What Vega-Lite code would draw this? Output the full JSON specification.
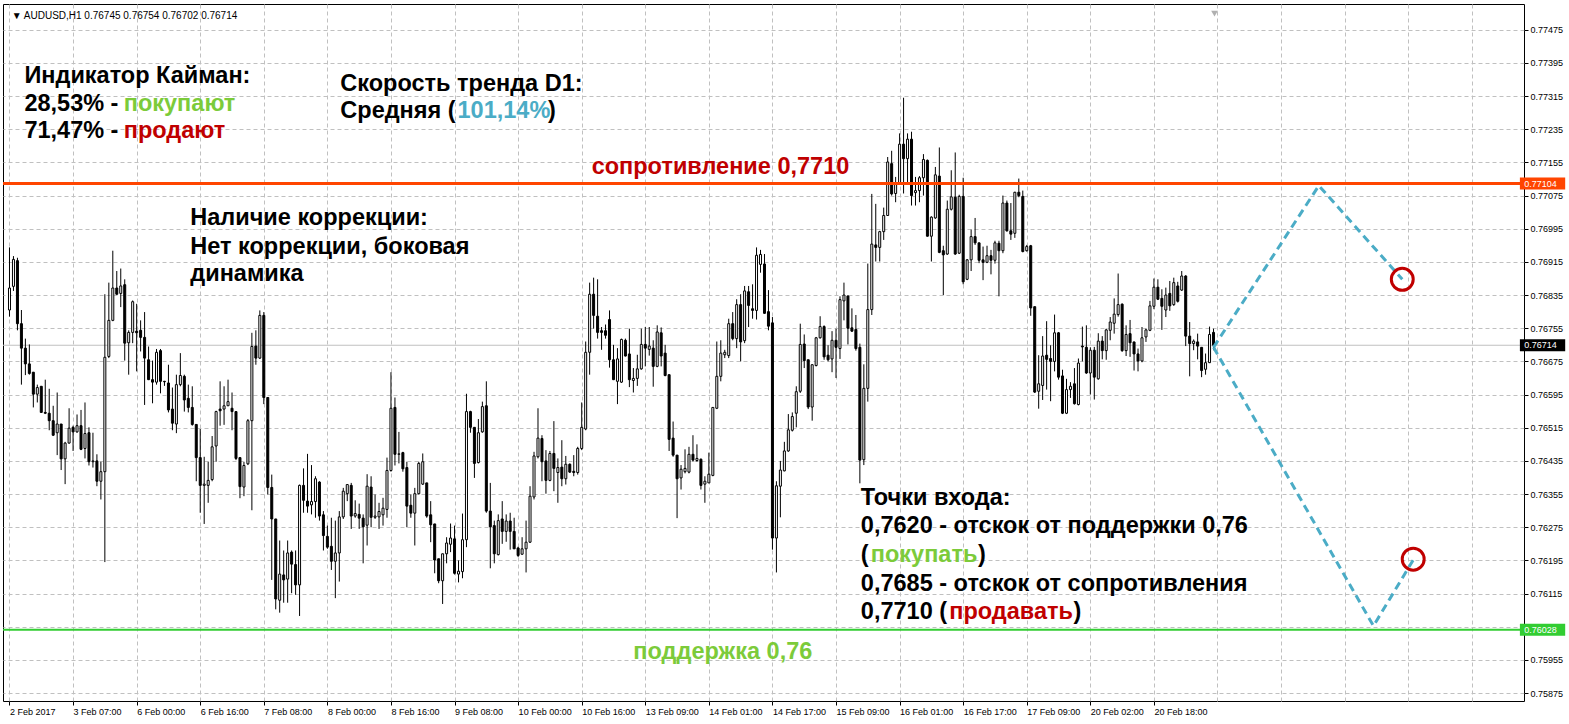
{
"$schema": "https://vega.github.io/schema/vega-lite/v6.json",
"width": 1521, "height": 697,
"autosize": {"type": "none"},
"padding": {"left": 3, "top": 4, "right": 45, "bottom": 23},
"background": "#ffffff",
"config": {"view": {"stroke": "#000000", "strokeWidth": 1}, "axis": {"labelFont": "Liberation Sans", "labelFontSize": 9, "labelColor": "#000000", "labelOverlap": false}},
"resolve": {"axis": {"y": "independent"}},
"datasets": {
"candles": [
{"i":0,"o":0.76799,"h":0.76950,"l":0.76783,"c":0.76852},
{"i":1,"o":0.76856,"h":0.76929,"l":0.76845,"c":0.76921},
{"i":2,"o":0.76918,"h":0.76925,"l":0.76750,"c":0.76766},
{"i":3,"o":0.76766,"h":0.76799,"l":0.76619,"c":0.76707},
{"i":4,"o":0.76707,"h":0.76730,"l":0.76642,"c":0.76669},
{"i":5,"o":0.76669,"h":0.76716,"l":0.76643,"c":0.76646},
{"i":6,"o":0.76649,"h":0.76649,"l":0.76564,"c":0.76596},
{"i":7,"o":0.76596,"h":0.76619,"l":0.76576,"c":0.76612},
{"i":8,"o":0.76615,"h":0.76615,"l":0.76551,"c":0.76552},
{"i":9,"o":0.76552,"h":0.76631,"l":0.76548,"c":0.76550},
{"i":10,"o":0.76550,"h":0.76609,"l":0.76509,"c":0.76532},
{"i":11,"o":0.76532,"h":0.76568,"l":0.76495,"c":0.76497},
{"i":12,"o":0.76503,"h":0.76600,"l":0.76449,"c":0.76524},
{"i":13,"o":0.76524,"h":0.76524,"l":0.76413,"c":0.76440},
{"i":14,"o":0.76440,"h":0.76481,"l":0.76379,"c":0.76478},
{"i":15,"o":0.76478,"h":0.76562,"l":0.76477,"c":0.76514},
{"i":16,"o":0.76516,"h":0.76520,"l":0.76459,"c":0.76505},
{"i":17,"o":0.76505,"h":0.76547,"l":0.76503,"c":0.76520},
{"i":18,"o":0.76520,"h":0.76558,"l":0.76461,"c":0.76463},
{"i":19,"o":0.76465,"h":0.76576,"l":0.76441,"c":0.76501},
{"i":20,"o":0.76503,"h":0.76516,"l":0.76424,"c":0.76433},
{"i":21,"o":0.76433,"h":0.76503,"l":0.76419,"c":0.76435},
{"i":22,"o":0.76435,"h":0.76451,"l":0.76374,"c":0.76386},
{"i":23,"o":0.76386,"h":0.76433,"l":0.76342,"c":0.76409},
{"i":24,"o":0.76409,"h":0.76837,"l":0.76191,"c":0.76685},
{"i":25,"o":0.76687,"h":0.76865,"l":0.76683,"c":0.76774},
{"i":26,"o":0.76774,"h":0.76942,"l":0.76772,"c":0.76852},
{"i":27,"o":0.76852,"h":0.76893,"l":0.76836,"c":0.76837},
{"i":28,"o":0.76839,"h":0.76899,"l":0.76806,"c":0.76857},
{"i":29,"o":0.76860,"h":0.76873,"l":0.76677,"c":0.76719},
{"i":30,"o":0.76720,"h":0.76750,"l":0.76643,"c":0.76745},
{"i":31,"o":0.76745,"h":0.76822,"l":0.76719,"c":0.76819},
{"i":32,"o":0.76748,"h":0.76814,"l":0.76651,"c":0.76744},
{"i":33,"o":0.76750,"h":0.76774,"l":0.76699,"c":0.76733},
{"i":34,"o":0.76733,"h":0.76794,"l":0.76570,"c":0.76683},
{"i":35,"o":0.76679,"h":0.76711,"l":0.76630,"c":0.76631},
{"i":36,"o":0.76631,"h":0.76677,"l":0.76574,"c":0.76625},
{"i":37,"o":0.76625,"h":0.76705,"l":0.76619,"c":0.76697},
{"i":38,"o":0.76701,"h":0.76705,"l":0.76598,"c":0.76627},
{"i":39,"o":0.76627,"h":0.76628,"l":0.76616,"c":0.76626},
{"i":40,"o":0.76623,"h":0.76667,"l":0.76552,"c":0.76558},
{"i":41,"o":0.76560,"h":0.76612,"l":0.76509,"c":0.76526},
{"i":42,"o":0.76524,"h":0.76643,"l":0.76502,"c":0.76619},
{"i":43,"o":0.76619,"h":0.76695,"l":0.76615,"c":0.76641},
{"i":44,"o":0.76639,"h":0.76643,"l":0.76554,"c":0.76582},
{"i":45,"o":0.76586,"h":0.76619,"l":0.76552,"c":0.76564},
{"i":46,"o":0.76564,"h":0.76615,"l":0.76520,"c":0.76523},
{"i":47,"o":0.76523,"h":0.76523,"l":0.76386,"c":0.76443},
{"i":48,"o":0.76443,"h":0.76512,"l":0.76310,"c":0.76376},
{"i":49,"o":0.76376,"h":0.76445,"l":0.76283,"c":0.76379},
{"i":50,"o":0.76376,"h":0.76433,"l":0.76334,"c":0.76388},
{"i":51,"o":0.76390,"h":0.76495,"l":0.76386,"c":0.76469},
{"i":52,"o":0.76471,"h":0.76556,"l":0.76433,"c":0.76554},
{"i":53,"o":0.76560,"h":0.76627,"l":0.76520,"c":0.76556},
{"i":54,"o":0.76560,"h":0.76615,"l":0.76522,"c":0.76568},
{"i":55,"o":0.76568,"h":0.76631,"l":0.76568,"c":0.76578},
{"i":56,"o":0.76562,"h":0.76600,"l":0.76509,"c":0.76554},
{"i":57,"o":0.76554,"h":0.76554,"l":0.76437,"c":0.76441},
{"i":58,"o":0.76443,"h":0.76443,"l":0.76345,"c":0.76373},
{"i":59,"o":0.76372,"h":0.76433,"l":0.76350,"c":0.76424},
{"i":60,"o":0.76428,"h":0.76536,"l":0.76425,"c":0.76532},
{"i":61,"o":0.76532,"h":0.76744,"l":0.76316,"c":0.76711},
{"i":62,"o":0.76712,"h":0.76750,"l":0.76667,"c":0.76683},
{"i":63,"o":0.76683,"h":0.76798,"l":0.76681,"c":0.76786},
{"i":64,"o":0.76786,"h":0.76794,"l":0.76572,"c":0.76588},
{"i":65,"o":0.76588,"h":0.76588,"l":0.76354,"c":0.76371},
{"i":66,"o":0.76371,"h":0.76402,"l":0.76148,"c":0.76295},
{"i":67,"o":0.76295,"h":0.76295,"l":0.76077,"c":0.76102},
{"i":68,"o":0.76099,"h":0.76243,"l":0.76069,"c":0.76162},
{"i":69,"o":0.76160,"h":0.76219,"l":0.76093,"c":0.76148},
{"i":70,"o":0.76150,"h":0.76243,"l":0.76093,"c":0.76213},
{"i":71,"o":0.76215,"h":0.76219,"l":0.76116,"c":0.76186},
{"i":72,"o":0.76185,"h":0.76219,"l":0.76112,"c":0.76136},
{"i":73,"o":0.76136,"h":0.76378,"l":0.76061,"c":0.76376},
{"i":74,"o":0.76376,"h":0.76417,"l":0.76310,"c":0.76340},
{"i":75,"o":0.76338,"h":0.76452,"l":0.76310,"c":0.76326},
{"i":76,"o":0.76329,"h":0.76425,"l":0.76306,"c":0.76337},
{"i":77,"o":0.76337,"h":0.76398,"l":0.76298,"c":0.76392},
{"i":78,"o":0.76384,"h":0.76386,"l":0.76291,"c":0.76302},
{"i":79,"o":0.76305,"h":0.76314,"l":0.76219,"c":0.76255},
{"i":80,"o":0.76253,"h":0.76279,"l":0.76223,"c":0.76227},
{"i":81,"o":0.76229,"h":0.76298,"l":0.76172,"c":0.76193},
{"i":82,"o":0.76193,"h":0.76291,"l":0.76104,"c":0.76213},
{"i":83,"o":0.76213,"h":0.76314,"l":0.76144,"c":0.76300},
{"i":84,"o":0.76300,"h":0.76370,"l":0.76295,"c":0.76362},
{"i":85,"o":0.76356,"h":0.76378,"l":0.76338,"c":0.76378},
{"i":86,"o":0.76376,"h":0.76382,"l":0.76271,"c":0.76302},
{"i":87,"o":0.76302,"h":0.76340,"l":0.76298,"c":0.76308},
{"i":88,"o":0.76306,"h":0.76332,"l":0.76271,"c":0.76297},
{"i":89,"o":0.76297,"h":0.76306,"l":0.76188,"c":0.76276},
{"i":90,"o":0.76280,"h":0.76403,"l":0.76231,"c":0.76374},
{"i":91,"o":0.76372,"h":0.76398,"l":0.76275,"c":0.76299},
{"i":92,"o":0.76299,"h":0.76354,"l":0.76295,"c":0.76302},
{"i":93,"o":0.76300,"h":0.76334,"l":0.76271,"c":0.76313},
{"i":94,"o":0.76305,"h":0.76346,"l":0.76279,"c":0.76321},
{"i":95,"o":0.76318,"h":0.76443,"l":0.76298,"c":0.76412},
{"i":96,"o":0.76412,"h":0.76649,"l":0.76409,"c":0.76562},
{"i":97,"o":0.76564,"h":0.76588,"l":0.76424,"c":0.76451},
{"i":98,"o":0.76451,"h":0.76505,"l":0.76429,"c":0.76452},
{"i":99,"o":0.76455,"h":0.76457,"l":0.76409,"c":0.76416},
{"i":100,"o":0.76419,"h":0.76433,"l":0.76275,"c":0.76326},
{"i":101,"o":0.76328,"h":0.76354,"l":0.76298,"c":0.76309},
{"i":102,"o":0.76309,"h":0.76370,"l":0.76231,"c":0.76356},
{"i":103,"o":0.76356,"h":0.76433,"l":0.76354,"c":0.76429},
{"i":104,"o":0.76379,"h":0.76453,"l":0.76377,"c":0.76433},
{"i":105,"o":0.76382,"h":0.76382,"l":0.76298,"c":0.76302},
{"i":106,"o":0.76305,"h":0.76338,"l":0.76239,"c":0.76281},
{"i":107,"o":0.76283,"h":0.76283,"l":0.76164,"c":0.76196},
{"i":108,"o":0.76199,"h":0.76199,"l":0.76140,"c":0.76146},
{"i":109,"o":0.76146,"h":0.76211,"l":0.76090,"c":0.76211},
{"i":110,"o":0.76211,"h":0.76251,"l":0.76188,"c":0.76237},
{"i":111,"o":0.76234,"h":0.76284,"l":0.76215,"c":0.76249},
{"i":112,"o":0.76247,"h":0.76279,"l":0.76161,"c":0.76164},
{"i":113,"o":0.76162,"h":0.76195,"l":0.76142,"c":0.76169},
{"i":114,"o":0.76168,"h":0.76308,"l":0.76152,"c":0.76245},
{"i":115,"o":0.76245,"h":0.76597,"l":0.76227,"c":0.76554},
{"i":116,"o":0.76554,"h":0.76556,"l":0.76503,"c":0.76516},
{"i":117,"o":0.76516,"h":0.76516,"l":0.76394,"c":0.76429},
{"i":118,"o":0.76431,"h":0.76536,"l":0.76429,"c":0.76503},
{"i":119,"o":0.76505,"h":0.76578,"l":0.76503,"c":0.76566},
{"i":120,"o":0.76568,"h":0.76627,"l":0.76310,"c":0.76314},
{"i":121,"o":0.76314,"h":0.76382,"l":0.76176,"c":0.76276},
{"i":122,"o":0.76279,"h":0.76291,"l":0.76188,"c":0.76211},
{"i":123,"o":0.76209,"h":0.76306,"l":0.76207,"c":0.76291},
{"i":124,"o":0.76295,"h":0.76338,"l":0.76235,"c":0.76265},
{"i":125,"o":0.76265,"h":0.76306,"l":0.76240,"c":0.76290},
{"i":126,"o":0.76290,"h":0.76310,"l":0.76221,"c":0.76265},
{"i":127,"o":0.76265,"h":0.76298,"l":0.76223,"c":0.76223},
{"i":128,"o":0.76225,"h":0.76228,"l":0.76203,"c":0.76207},
{"i":129,"o":0.76210,"h":0.76251,"l":0.76209,"c":0.76223},
{"i":130,"o":0.76223,"h":0.76291,"l":0.76166,"c":0.76239},
{"i":131,"o":0.76239,"h":0.76374,"l":0.76237,"c":0.76350},
{"i":132,"o":0.76348,"h":0.76457,"l":0.76342,"c":0.76447},
{"i":133,"o":0.76445,"h":0.76562,"l":0.76441,"c":0.76490},
{"i":134,"o":0.76489,"h":0.76497,"l":0.76386,"c":0.76433},
{"i":135,"o":0.76435,"h":0.76461,"l":0.76356,"c":0.76388},
{"i":136,"o":0.76388,"h":0.76459,"l":0.76386,"c":0.76453},
{"i":137,"o":0.76453,"h":0.76531,"l":0.76362,"c":0.76417},
{"i":138,"o":0.76407,"h":0.76441,"l":0.76334,"c":0.76419},
{"i":139,"o":0.76420,"h":0.76485,"l":0.76374,"c":0.76392},
{"i":140,"o":0.76392,"h":0.76447,"l":0.76378,"c":0.76427},
{"i":141,"o":0.76427,"h":0.76429,"l":0.76406,"c":0.76408},
{"i":142,"o":0.76410,"h":0.76449,"l":0.76398,"c":0.76407},
{"i":143,"o":0.76407,"h":0.76469,"l":0.76402,"c":0.76465},
{"i":144,"o":0.76465,"h":0.76576,"l":0.76461,"c":0.76516},
{"i":145,"o":0.76512,"h":0.76723,"l":0.76509,"c":0.76697},
{"i":146,"o":0.76697,"h":0.76865,"l":0.76643,"c":0.76837},
{"i":147,"o":0.76837,"h":0.76877,"l":0.76754,"c":0.76786},
{"i":148,"o":0.76784,"h":0.76873,"l":0.76730,"c":0.76745},
{"i":149,"o":0.76749,"h":0.76758,"l":0.76703,"c":0.76745},
{"i":150,"o":0.76749,"h":0.76764,"l":0.76730,"c":0.76738},
{"i":151,"o":0.76776,"h":0.76798,"l":0.76660,"c":0.76679},
{"i":152,"o":0.76679,"h":0.76715,"l":0.76630,"c":0.76631},
{"i":153,"o":0.76627,"h":0.76707,"l":0.76572,"c":0.76681},
{"i":154,"o":0.76625,"h":0.76730,"l":0.76623,"c":0.76728},
{"i":155,"o":0.76726,"h":0.76730,"l":0.76687,"c":0.76688},
{"i":156,"o":0.76693,"h":0.76754,"l":0.76613,"c":0.76631},
{"i":157,"o":0.76629,"h":0.76659,"l":0.76600,"c":0.76634},
{"i":158,"o":0.76634,"h":0.76691,"l":0.76616,"c":0.76657},
{"i":159,"o":0.76657,"h":0.76754,"l":0.76655,"c":0.76716},
{"i":160,"o":0.76716,"h":0.76758,"l":0.76663,"c":0.76707},
{"i":161,"o":0.76704,"h":0.76758,"l":0.76689,"c":0.76712},
{"i":162,"o":0.76707,"h":0.76726,"l":0.76614,"c":0.76663},
{"i":163,"o":0.76663,"h":0.76762,"l":0.76661,"c":0.76746},
{"i":164,"o":0.76744,"h":0.76757,"l":0.76663,"c":0.76688},
{"i":165,"o":0.76695,"h":0.76715,"l":0.76639,"c":0.76641},
{"i":166,"o":0.76643,"h":0.76643,"l":0.76459,"c":0.76487},
{"i":167,"o":0.76490,"h":0.76530,"l":0.76445,"c":0.76449},
{"i":168,"o":0.76449,"h":0.76449,"l":0.76297,"c":0.76392},
{"i":169,"o":0.76394,"h":0.76425,"l":0.76366,"c":0.76415},
{"i":170,"o":0.76409,"h":0.76463,"l":0.76405,"c":0.76417},
{"i":171,"o":0.76408,"h":0.76469,"l":0.76405,"c":0.76451},
{"i":172,"o":0.76451,"h":0.76497,"l":0.76433,"c":0.76437},
{"i":173,"o":0.76436,"h":0.76475,"l":0.76433,"c":0.76441},
{"i":174,"o":0.76439,"h":0.76441,"l":0.76366,"c":0.76376},
{"i":175,"o":0.76379,"h":0.76398,"l":0.76334,"c":0.76386},
{"i":176,"o":0.76382,"h":0.76455,"l":0.76382,"c":0.76403},
{"i":177,"o":0.76400,"h":0.76564,"l":0.76398,"c":0.76564},
{"i":178,"o":0.76562,"h":0.76723,"l":0.76560,"c":0.76639},
{"i":179,"o":0.76639,"h":0.76726,"l":0.76627,"c":0.76695},
{"i":180,"o":0.76691,"h":0.76703,"l":0.76683,"c":0.76697},
{"i":181,"o":0.76689,"h":0.76778,"l":0.76683,"c":0.76766},
{"i":182,"o":0.76766,"h":0.76794,"l":0.76726,"c":0.76730},
{"i":183,"o":0.76730,"h":0.76825,"l":0.76707,"c":0.76812},
{"i":184,"o":0.76812,"h":0.76837,"l":0.76675,"c":0.76722},
{"i":185,"o":0.76725,"h":0.76857,"l":0.76719,"c":0.76845},
{"i":186,"o":0.76843,"h":0.76857,"l":0.76758,"c":0.76810},
{"i":187,"o":0.76802,"h":0.76861,"l":0.76778,"c":0.76798},
{"i":188,"o":0.76798,"h":0.76950,"l":0.76776,"c":0.76931},
{"i":189,"o":0.76909,"h":0.76944,"l":0.76889,"c":0.76933},
{"i":190,"o":0.76910,"h":0.76934,"l":0.76790,"c":0.76791},
{"i":191,"o":0.76795,"h":0.76847,"l":0.76750,"c":0.76760},
{"i":192,"o":0.76768,"h":0.76782,"l":0.76221,"c":0.76249},
{"i":193,"o":0.76249,"h":0.76386,"l":0.76166,"c":0.76375},
{"i":194,"o":0.76374,"h":0.76435,"l":0.76299,"c":0.76413},
{"i":195,"o":0.76411,"h":0.76481,"l":0.76410,"c":0.76459},
{"i":196,"o":0.76459,"h":0.76548,"l":0.76457,"c":0.76510},
{"i":197,"o":0.76509,"h":0.76552,"l":0.76506,"c":0.76542},
{"i":198,"o":0.76550,"h":0.76615,"l":0.76516,"c":0.76602},
{"i":199,"o":0.76603,"h":0.76766,"l":0.76599,"c":0.76716},
{"i":200,"o":0.76717,"h":0.76740,"l":0.76659,"c":0.76677},
{"i":201,"o":0.76679,"h":0.76679,"l":0.76560,"c":0.76565},
{"i":202,"o":0.76565,"h":0.76668,"l":0.76532,"c":0.76667},
{"i":203,"o":0.76665,"h":0.76734,"l":0.76663,"c":0.76732},
{"i":204,"o":0.76732,"h":0.76784,"l":0.76730,"c":0.76759},
{"i":205,"o":0.76759,"h":0.76762,"l":0.76679,"c":0.76686},
{"i":206,"o":0.76690,"h":0.76714,"l":0.76675,"c":0.76679},
{"i":207,"o":0.76681,"h":0.76748,"l":0.76649,"c":0.76726},
{"i":208,"o":0.76726,"h":0.76754,"l":0.76635,"c":0.76709},
{"i":209,"o":0.76706,"h":0.76832,"l":0.76681,"c":0.76824},
{"i":210,"o":0.76821,"h":0.76865,"l":0.76774,"c":0.76835},
{"i":211,"o":0.76833,"h":0.76833,"l":0.76716,"c":0.76755},
{"i":212,"o":0.76756,"h":0.76803,"l":0.76746,"c":0.76748},
{"i":213,"o":0.76752,"h":0.76787,"l":0.76701,"c":0.76706},
{"i":214,"o":0.76709,"h":0.76718,"l":0.76381,"c":0.76437},
{"i":215,"o":0.76438,"h":0.76668,"l":0.76425,"c":0.76610},
{"i":216,"o":0.76610,"h":0.76911,"l":0.76578,"c":0.76800},
{"i":217,"o":0.76800,"h":0.77079,"l":0.76787,"c":0.76958},
{"i":218,"o":0.76956,"h":0.77055,"l":0.76916,"c":0.76950},
{"i":219,"o":0.76950,"h":0.76990,"l":0.76916,"c":0.76988},
{"i":220,"o":0.76988,"h":0.77046,"l":0.76968,"c":0.77027},
{"i":221,"o":0.77027,"h":0.77168,"l":0.77026,"c":0.77156},
{"i":222,"o":0.77152,"h":0.77183,"l":0.77075,"c":0.77079},
{"i":223,"o":0.77080,"h":0.77120,"l":0.77059,"c":0.77103},
{"i":224,"o":0.77103,"h":0.77225,"l":0.77101,"c":0.77199},
{"i":225,"o":0.77199,"h":0.77311,"l":0.77080,"c":0.77164},
{"i":226,"o":0.77164,"h":0.77225,"l":0.77103,"c":0.77211},
{"i":227,"o":0.77211,"h":0.77229,"l":0.77051,"c":0.77075},
{"i":228,"o":0.77082,"h":0.77120,"l":0.77051,"c":0.77087},
{"i":229,"o":0.77087,"h":0.77122,"l":0.77059,"c":0.77118},
{"i":230,"o":0.77118,"h":0.77175,"l":0.77075,"c":0.77162},
{"i":231,"o":0.77160,"h":0.77162,"l":0.76976,"c":0.76977},
{"i":232,"o":0.76977,"h":0.77025,"l":0.76916,"c":0.77023},
{"i":233,"o":0.77021,"h":0.77144,"l":0.77019,"c":0.77125},
{"i":234,"o":0.77122,"h":0.77191,"l":0.76936,"c":0.76938},
{"i":235,"o":0.76942,"h":0.76954,"l":0.76835,"c":0.76932},
{"i":236,"o":0.76934,"h":0.77063,"l":0.76932,"c":0.77042},
{"i":237,"o":0.77042,"h":0.77136,"l":0.77039,"c":0.77072},
{"i":238,"o":0.77071,"h":0.77179,"l":0.76932,"c":0.76934},
{"i":239,"o":0.76936,"h":0.77077,"l":0.76934,"c":0.77073},
{"i":240,"o":0.77073,"h":0.77118,"l":0.76861,"c":0.76867},
{"i":241,"o":0.76873,"h":0.76922,"l":0.76871,"c":0.76920},
{"i":242,"o":0.76920,"h":0.76993,"l":0.76893,"c":0.76976},
{"i":243,"o":0.76976,"h":0.77021,"l":0.76956,"c":0.76961},
{"i":244,"o":0.76961,"h":0.76961,"l":0.76912,"c":0.76919},
{"i":245,"o":0.76920,"h":0.76952,"l":0.76871,"c":0.76914},
{"i":246,"o":0.76914,"h":0.76954,"l":0.76912,"c":0.76930},
{"i":247,"o":0.76930,"h":0.76944,"l":0.76885,"c":0.76919},
{"i":248,"o":0.76919,"h":0.76966,"l":0.76911,"c":0.76961},
{"i":249,"o":0.76960,"h":0.76966,"l":0.76832,"c":0.76942},
{"i":250,"o":0.76942,"h":0.77075,"l":0.76936,"c":0.77057},
{"i":251,"o":0.77057,"h":0.77063,"l":0.76988,"c":0.76990},
{"i":252,"o":0.76990,"h":0.77057,"l":0.76968,"c":0.76982},
{"i":253,"o":0.76984,"h":0.77084,"l":0.76973,"c":0.77083},
{"i":254,"o":0.77083,"h":0.77116,"l":0.77071,"c":0.77075},
{"i":255,"o":0.77073,"h":0.77087,"l":0.76938,"c":0.76940},
{"i":256,"o":0.76942,"h":0.76956,"l":0.76940,"c":0.76952},
{"i":257,"o":0.76954,"h":0.76956,"l":0.76785,"c":0.76804},
{"i":258,"o":0.76807,"h":0.76807,"l":0.76599,"c":0.76601},
{"i":259,"o":0.76603,"h":0.76690,"l":0.76561,"c":0.76621},
{"i":260,"o":0.76617,"h":0.76736,"l":0.76582,"c":0.76688},
{"i":261,"o":0.76690,"h":0.76772,"l":0.76607,"c":0.76680},
{"i":262,"o":0.76682,"h":0.76714,"l":0.76579,"c":0.76675},
{"i":263,"o":0.76675,"h":0.76788,"l":0.76651,"c":0.76744},
{"i":264,"o":0.76744,"h":0.76746,"l":0.76631,"c":0.76637},
{"i":265,"o":0.76640,"h":0.76655,"l":0.76548,"c":0.76550},
{"i":266,"o":0.76550,"h":0.76633,"l":0.76548,"c":0.76607},
{"i":267,"o":0.76607,"h":0.76625,"l":0.76587,"c":0.76615},
{"i":268,"o":0.76621,"h":0.76659,"l":0.76571,"c":0.76573},
{"i":269,"o":0.76571,"h":0.76682,"l":0.76569,"c":0.76671},
{"i":270,"o":0.76712,"h":0.76759,"l":0.76675,"c":0.76710},
{"i":271,"o":0.76709,"h":0.76762,"l":0.76645,"c":0.76647},
{"i":272,"o":0.76647,"h":0.76709,"l":0.76595,"c":0.76702},
{"i":273,"o":0.76702,"h":0.76710,"l":0.76583,"c":0.76637},
{"i":274,"o":0.76633,"h":0.76743,"l":0.76631,"c":0.76724},
{"i":275,"o":0.76724,"h":0.76736,"l":0.76680,"c":0.76701},
{"i":276,"o":0.76701,"h":0.76754,"l":0.76679,"c":0.76751},
{"i":277,"o":0.76750,"h":0.76782,"l":0.76726,"c":0.76770},
{"i":278,"o":0.76767,"h":0.76827,"l":0.76742,"c":0.76789},
{"i":279,"o":0.76788,"h":0.76887,"l":0.76783,"c":0.76812},
{"i":280,"o":0.76813,"h":0.76815,"l":0.76698,"c":0.76701},
{"i":281,"o":0.76701,"h":0.76762,"l":0.76688,"c":0.76740},
{"i":282,"o":0.76742,"h":0.76775,"l":0.76686,"c":0.76720},
{"i":283,"o":0.76722,"h":0.76722,"l":0.76653,"c":0.76693},
{"i":284,"o":0.76693,"h":0.76706,"l":0.76651,"c":0.76676},
{"i":285,"o":0.76676,"h":0.76758,"l":0.76673,"c":0.76732},
{"i":286,"o":0.76734,"h":0.76754,"l":0.76722,"c":0.76751},
{"i":287,"o":0.76750,"h":0.76821,"l":0.76748,"c":0.76809},
{"i":288,"o":0.76808,"h":0.76875,"l":0.76801,"c":0.76854},
{"i":289,"o":0.76854,"h":0.76873,"l":0.76823,"c":0.76825},
{"i":290,"o":0.76827,"h":0.76849,"l":0.76751,"c":0.76808},
{"i":291,"o":0.76799,"h":0.76853,"l":0.76782,"c":0.76835},
{"i":292,"o":0.76839,"h":0.76869,"l":0.76797,"c":0.76809},
{"i":293,"o":0.76812,"h":0.76877,"l":0.76809,"c":0.76865},
{"i":294,"o":0.76857,"h":0.76867,"l":0.76817,"c":0.76820},
{"i":295,"o":0.76847,"h":0.76893,"l":0.76845,"c":0.76881},
{"i":296,"o":0.76881,"h":0.76883,"l":0.76712,"c":0.76736},
{"i":297,"o":0.76736,"h":0.76770,"l":0.76639,"c":0.76718},
{"i":298,"o":0.76718,"h":0.76728,"l":0.76702,"c":0.76724},
{"i":299,"o":0.76722,"h":0.76742,"l":0.76680,"c":0.76712},
{"i":300,"o":0.76709,"h":0.76709,"l":0.76637,"c":0.76653},
{"i":301,"o":0.76656,"h":0.76694,"l":0.76643,"c":0.76672},
{"i":302,"o":0.76672,"h":0.76759,"l":0.76671,"c":0.76740},
{"i":303,"o":0.76745,"h":0.76754,"l":0.76702,"c":0.76714}
],
"notes": [
{"i":3.75,"p":0.77347,"text":"Индикатор Кайман:","kind":"plain"},
{"i":3.75,"p":0.77280,"text":"28,53% -","kind":"plain"},
{"i":28.75,"p":0.77280,"text":"покупают","kind":"buy"},
{"i":3.75,"p":0.77213,"text":"71,47% -","kind":"plain"},
{"i":28.75,"p":0.77213,"text":"продают","kind":"sell"},
{"i":83.25,"p":0.77328,"text":"Скорость тренда D1:","kind":"plain"},
{"i":83.25,"p":0.77261,"text":"Средняя (","kind":"plain"},
{"i":112.75,"p":0.77261,"text":"101,14%","kind":"speed"},
{"i":135.5,"p":0.77261,"text":")","kind":"plain"},
{"i":146.5,"p":0.77128,"text":"сопротивление 0,7710","kind":"sell"},
{"i":45.5,"p":0.77004,"text":"Наличие коррекции:","kind":"plain"},
{"i":45.5,"p":0.76935,"text":"Нет коррекции, боковая","kind":"plain"},
{"i":45.5,"p":0.76869,"text":"динамика","kind":"plain"},
{"i":214.25,"p":0.76329,"text":"Точки входа:","kind":"plain"},
{"i":214.25,"p":0.76260,"text":"0,7620 - отскок от поддержки 0,76","kind":"plain"},
{"i":214.25,"p":0.76191,"text":"(","kind":"plain"},
{"i":216.75,"p":0.76191,"text":"покупать","kind":"buy"},
{"i":243.75,"p":0.76191,"text":")","kind":"plain"},
{"i":214.25,"p":0.76122,"text":"0,7685 - отскок от сопротивления","kind":"plain"},
{"i":214.25,"p":0.76053,"text":"0,7710 (","kind":"plain"},
{"i":236.5,"p":0.76053,"text":"продавать","kind":"sell"},
{"i":267.75,"p":0.76053,"text":")","kind":"plain"},
{"i":157,"p":0.75958,"text":"поддержка 0,76","kind":"buy"}
],
"header": [
{"i":0.6,"p":0.77500,"text":"▼"},
{"i":3.6,"p":0.77500,"text":"AUDUSD,H1  0.76745 0.76754 0.76702 0.76714"}
],
"shift": [
{"i":303.25,"p":0.77514}
],
"path": [
{"leg":"up","step":0,"i":303,"p":0.76709},
{"leg":"up","step":1,"i":329.5,"p":0.77099},
{"leg":"up","step":2,"i":350.5,"p":0.76873},
{"leg":"down","step":0,"i":303,"p":0.76709},
{"leg":"down","step":1,"i":343.25,"p":0.76037},
{"leg":"down","step":2,"i":353.25,"p":0.76196}
],
"targets": [
{"i":350.5,"p":0.76873},
{"i":353.25,"p":0.76198}
],
"levels": [
{"p":0.77104,"kind":"resistance"},
{"p":0.76714,"kind":"last"},
{"p":0.76028,"kind":"support"}
],
"tags": [
{"p":0.77104,"text":"0.77104","kind":"resistance"},
{"p":0.76714,"text":"0.76714","kind":"last"},
{"p":0.76028,"text":"0.76028","kind":"support"}
]
},
"layer": [
{"data": {"name": "levels"}, "transform": [{"filter": "datum.kind == 'last'"}],
 "mark": {"type": "rule", "color": "#c0c0c0", "strokeWidth": 1},
 "encoding": {"y": {"field": "p", "type": "quantitative", "title": null, "axis": null}}},
{"data": {"name": "candles"},
 "mark": {"type": "rule", "color": "#000000", "strokeWidth": 1},
 "encoding": {
  "x": {"field": "i", "type": "quantitative", "title": null,
   "scale": {"domain": [-0.375, 379.875], "nice": false, "zero": false},
   "axis": {"values": [0,8,16,24,32,40,48,56,64,72,80,88,96,104,112,120,128,136,144,152,160,168,176,184,192,200,208,216,224,232,240,248,256,264,272,280,288,296,304,312,320,328,336,344,352,360,368,376],
    "grid": true, "gridColor": "#c0c0c0", "gridDash": [4,3], "gridWidth": 1, "domain": false,
    "tickColor": "#000000", "tickSize": 4,
    "tickOpacity": {"condition": {"test": "datum.value % 16 != 0 || datum.value > 288", "value": 0}, "value": 1},
    "labelAlign": "left", "labelPadding": 2, "labelOverlap": false, "labelFlush": false, "labelBound": false,
    "labelExpr": "(datum.value % 16 == 0 && datum.value <= 288) ? ['2 Feb 2017','3 Feb 07:00','6 Feb 00:00','6 Feb 16:00','7 Feb 08:00','8 Feb 00:00','8 Feb 16:00','9 Feb 08:00','10 Feb 00:00','10 Feb 16:00','13 Feb 09:00','14 Feb 01:00','14 Feb 17:00','15 Feb 09:00','16 Feb 01:00','16 Feb 17:00','17 Feb 09:00','20 Feb 02:00','20 Feb 18:00'][datum.value/16] : ''"}},
  "y": {"field": "l", "type": "quantitative", "title": null,
   "scale": {"domain": [0.75868, 0.77525], "nice": false, "zero": false},
   "axis": {"orient": "right", "values": [0.75875,0.76035,0.76195,0.76355,0.76515,0.76675,0.76835,0.76995,0.77155,0.77315,0.77475],
    "format": ".5f", "grid": true, "gridColor": "#c0c0c0", "gridDash": [4,3], "gridWidth": 1, "domain": false,
    "tickColor": "#000000", "tickSize": 4, "labelPadding": 2, "labelOverlap": false, "labelFlush": false, "labelBound": false}},
  "y2": {"field": "h"}
 }},
{"data": {"name": "candles"},
 "mark": {"type": "bar", "width": 2, "stroke": "#000000", "strokeWidth": 1},
 "encoding": {
  "x": {"field": "i", "type": "quantitative", "title": null},
  "y": {"field": "o", "type": "quantitative", "title": null,
   "axis": {"orient": "right", "values": [0.75955,0.76115,0.76275,0.76435,0.76595,0.76755,0.76915,0.77075,0.77235,0.77395],
    "format": ".5f", "grid": true, "gridColor": "#c0c0c0", "gridDash": [4,3], "gridWidth": 1, "domain": false,
    "tickColor": "#000000", "tickSize": 4, "labelPadding": 2, "labelOverlap": false, "labelFlush": false, "labelBound": false}},
  "y2": {"field": "c"},
  "fill": {"condition": {"test": "datum.c >= datum.o", "value": "#ffffff"}, "value": "#000000"}
 }},
{"data": {"name": "levels"}, "transform": [{"filter": "datum.kind == 'resistance'"}],
 "mark": {"type": "rule", "color": "#FF4500", "strokeWidth": 3},
 "encoding": {"y": {"field": "p", "type": "quantitative", "title": null, "axis": null}}},
{"data": {"name": "levels"}, "transform": [{"filter": "datum.kind == 'support'"}],
 "mark": {"type": "rule", "color": "#32CD32", "strokeWidth": 2},
 "encoding": {"y": {"field": "p", "type": "quantitative", "title": null, "axis": null}}},
{"data": {"name": "notes"},
 "mark": {"type": "text", "align": "left", "baseline": "alphabetic", "font": "Liberation Sans", "fontWeight": "bold", "fontSize": 23.5},
 "encoding": {
  "x": {"field": "i", "type": "quantitative", "title": null},
  "y": {"field": "p", "type": "quantitative", "title": null, "axis": null},
  "text": {"field": "text"},
  "color": {"field": "kind", "type": "nominal", "scale": {"domain": ["plain","buy","sell","speed"], "range": ["#000000","#7CCB3A","#C00000","#4BACC6"]}, "legend": null}
 }},
{"data": {"name": "header"},
 "mark": {"type": "text", "align": "left", "baseline": "alphabetic", "font": "Liberation Sans", "fontSize": 10, "color": "#000000"},
 "encoding": {
  "x": {"field": "i", "type": "quantitative", "title": null},
  "y": {"field": "p", "type": "quantitative", "title": null, "axis": null},
  "text": {"field": "text"}
 }},
{"data": {"name": "shift"},
 "mark": {"type": "point", "shape": "triangle-down", "filled": true, "color": "#b0b0b0", "size": 45, "opacity": 1},
 "encoding": {
  "x": {"field": "i", "type": "quantitative", "title": null},
  "y": {"field": "p", "type": "quantitative", "title": null, "axis": null}
 }},
{"data": {"name": "path"},
 "mark": {"type": "line", "color": "#4BACC6", "strokeWidth": 3, "strokeDash": [8,5]},
 "encoding": {
  "x": {"field": "i", "type": "quantitative", "title": null},
  "y": {"field": "p", "type": "quantitative", "title": null, "axis": null},
  "detail": {"field": "leg"},
  "order": {"field": "step"}
 }},
{"data": {"name": "targets"},
 "mark": {"type": "point", "shape": "circle", "filled": false, "stroke": "#C00000", "strokeWidth": 3, "size": 480, "opacity": 1},
 "encoding": {
  "x": {"field": "i", "type": "quantitative", "title": null},
  "y": {"field": "p", "type": "quantitative", "title": null, "axis": null}
 }},
{"data": {"name": "tags"},
 "mark": {"type": "bar", "orient": "horizontal", "height": 12},
 "encoding": {
  "y": {"field": "p", "type": "quantitative", "title": null, "axis": null},
  "x": {"datum": 380.1},
  "x2": {"datum": 391.5},
  "fill": {"field": "kind", "type": "nominal", "scale": {"domain": ["resistance","last","support"], "range": ["#FF4500","#000000","#32CD32"]}, "legend": null}
 }},
{"data": {"name": "tags"},
 "mark": {"type": "text", "align": "left", "baseline": "middle", "font": "Liberation Sans", "fontSize": 9, "color": "#ffffff"},
 "encoding": {
  "y": {"field": "p", "type": "quantitative", "title": null, "axis": null},
  "x": {"datum": 381.2},
  "text": {"field": "text"}
 }}
]
}
